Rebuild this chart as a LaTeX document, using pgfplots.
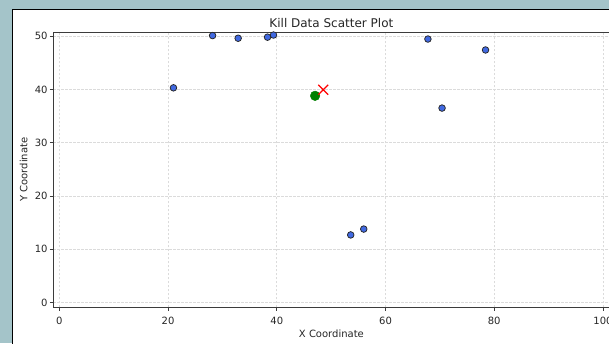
\documentclass[border=0pt]{standalone}
\usepackage{fontspec}
\setmainfont{DejaVu Sans}
\usepackage{pgfplots}
\pgfplotsset{compat=1.18}
\definecolor{bgteal}{RGB}{164,196,201}
\definecolor{ptblue}{RGB}{65,105,225}
\definecolor{ptgreen}{RGB}{0,128,0}
\definecolor{spinegray}{RGB}{60,60,60}
\begin{document}
\begin{tikzpicture}[x=1pt,y=1pt]
\useasboundingbox (0,0) rectangle (609,-343);
\clip (0,0) rectangle (609,-343);
\fill[bgteal] (0,0) rectangle (609,-343);
\draw[black, line width=1.5pt, fill=white] (12.7,-9.7) rectangle (700,-400);
\begin{axis}[
  at={(53.3pt,-307.3pt)}, anchor=south west,
  scale only axis, width=556.2pt, height=275.3pt,
  xmin=-1.1, xmax=101.2, ymin=-0.88, ymax=50.77,
  xtick={0,20,40,60,80,100}, ytick={0,10,20,30,40,50},
  axis line style={spinegray, line width=0.8pt},
  tick style={spinegray, line width=0.8pt},
  tick align=outside, major tick length=3.5pt,
  xtick pos=bottom, ytick pos=left,
  grid=major,
  major grid style={dash pattern=on 2.5pt off 1.5pt, gray!28, line width=0.6pt},
  /pgf/number format/assume math mode=true,
  ticklabel style={font=\fontsize{10}{12}\selectfont, text=black!85},
  xticklabel style={anchor=base, inner sep=0pt, yshift=-13.2pt},
  yticklabel style={anchor=east, inner sep=0pt, xshift=-2pt},
  title={Kill Data Scatter Plot},
  title style={at={(axis description cs:0.5,1)}, anchor=base, inner sep=0pt, yshift=-1.2pt, font=\fontsize{12}{14}\selectfont, text=black!85},
  xlabel={X Coordinate},
  xlabel style={at={(axis description cs:0.5,0)}, anchor=base, inner sep=0pt, yshift=-29.7pt, font=\fontsize{10}{12}\selectfont, text=black!85},
  ylabel={Y Coordinate},
  ylabel style={at={(axis description cs:0,0.5)}, anchor=base, inner sep=0pt, yshift=26pt, font=\fontsize{10}{12}\selectfont, text=black!85},
  clip=false,
]
\addplot[only marks, mark=*, mark size=3.3pt, mark options={fill=ptblue, draw=black!85, line width=0.75pt}] coordinates {
  (21.0,40.3) (28.2,50.1) (32.9,49.6) (38.3,49.8) (39.4,50.2)
  (67.8,49.45) (78.4,47.4) (70.4,36.5) (53.6,12.7) (56.0,13.8)
};
\addplot[only marks, mark=*, mark size=4.8pt, mark options={fill=ptgreen, draw=ptgreen}] coordinates {(47.05,38.8)};
\addplot[only marks, mark=x, mark size=7pt, mark options={draw=red, line width=1.2pt}] coordinates {(48.55,39.95)};
\end{axis}
\end{tikzpicture}
\end{document}
